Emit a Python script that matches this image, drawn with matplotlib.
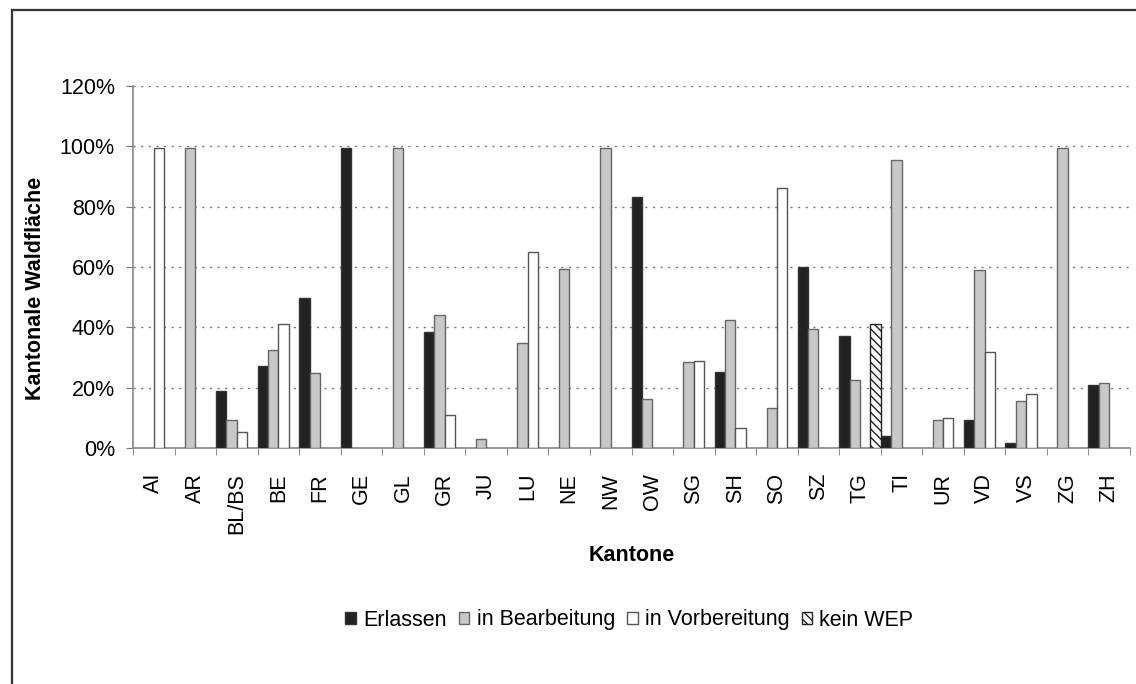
import numpy as np
import matplotlib
matplotlib.use("Agg")
import matplotlib.pyplot as plt
from matplotlib.patches import Patch
from matplotlib.lines import Line2D

kantone = ["AI", "AR", "BL/BS", "BE", "FR", "GE", "GL", "GR", "JU", "LU", "NE", "NW",
           "OW", "SG", "SH", "SO", "SZ", "TG", "TI", "UR", "VD", "VS", "ZG", "ZH"]
erlassen = [0, 0, 19, 27.3, 49.8, 99.3, 0, 38.6, 0, 0, 0, 0,
            83.3, 0, 25.3, 0, 60, 37, 4.1, 0, 9.3, 1.7, 0, 20.8]
in_bearbeitung = [0, 99.3, 9.3, 32.5, 25, 0, 99.3, 44, 2.9, 34.9, 59.4, 99.3,
                  16.1, 28.4, 42.3, 13.4, 39.3, 22.5, 95.5, 9.3, 59.1, 15.7, 99.3, 21.4]
in_vorbereitung = [99.3, 0, 5.2, 41, 0, 0, 0, 11, 0, 64.9, 0, 0,
                   0, 29, 6.5, 86.2, 0, 0, 0, 9.8, 31.8, 17.9, 0, 0]
kein_wep = [0, 0, 0, 0, 0, 0, 0, 0, 0, 0, 0, 0,
            0, 0, 0, 0, 0, 41, 0, 0, 0, 0, 0, 0]
serien = ["Erlassen", "in Bearbeitung", "in Vorbereitung", "kein WEP"]

plt.rcParams["font.family"] = ["Liberation Sans", "DejaVu Sans"]

fig = plt.figure(figsize=(11.36, 6.84), dpi=100)
ax = fig.add_axes([133 / 1136, 1 - 448 / 684, 997 / 1136, 362 / 684])

styles = [
    dict(color="#222222", edgecolor="#333333"),
    dict(color="#c8c8c8", edgecolor="#666666"),
    dict(color="white", edgecolor="#555555"),
    dict(color="white", edgecolor="#222222", hatch="\\\\\\\\"),
]
werte = [erlassen, in_bearbeitung, in_vorbereitung, kein_wep]

x = np.arange(len(kantone))
w = 0.25
for k, (vals, st) in enumerate(zip(werte, styles)):
    v = np.array(vals, dtype=float)
    v[v == 0] = np.nan
    ax.bar(x + (k - 1.5) * w, v, width=w, linewidth=1.0, label=serien[k], zorder=3, **st)

ax.set_xlim(-0.5, len(kantone) - 0.5)
ax.set_ylim(0, 120)
ax.set_yticks(np.arange(0, 121, 20))
ax.set_yticklabels([f"{t}%" for t in range(0, 121, 20)])
ax.yaxis.grid(True, color="#777777", linestyle=(0, (1.5, 4)), linewidth=1.0, zorder=0)

ax.set_xticks(x)
ax.set_xticklabels(kantone, rotation=90, va="top")
ax.set_xticks(np.arange(-0.5, len(kantone), 1.0), minor=True)
ax.tick_params(axis="x", which="major", length=0, pad=18, labelsize=15.5)
ax.tick_params(axis="x", which="minor", length=5, color="#777777", direction="out")
ax.tick_params(axis="y", length=5, color="#777777", pad=8, labelsize=15.5)

for s in ["top", "right"]:
    ax.spines[s].set_visible(False)
for s in ["left", "bottom"]:
    ax.spines[s].set_color("#888888")
    ax.spines[s].set_linewidth(1.2)

ax.set_xlabel("Kantone", fontsize=15.5, fontweight="bold")
ax.xaxis.set_label_coords(0.5, -0.268)
ax.set_ylabel("Kantonale Waldfläche", fontsize=15.5, fontweight="bold")
ax.yaxis.set_label_coords(-0.087, 0.44)

handles = [Patch(facecolor=st["color"], edgecolor=st["edgecolor"], hatch=st.get("hatch"),
                 linewidth=1.0, label=name) for st, name in zip(styles, serien)]
fig.legend(handles=handles, loc="center", bbox_to_anchor=(0.554, 1 - 620 / 684), ncol=4,
           frameon=False, fontsize=15.5, handlelength=0.5, handleheight=0.5,
           handletextpad=0.33, columnspacing=0.56)

# Rahmen (links und oben)
fig.add_artist(Line2D([11.5 / 1136, 11.5 / 1136], [0, 1 - 10 / 684], transform=fig.transFigure,
                      color="#333333", linewidth=1.6))
fig.add_artist(Line2D([11.5 / 1136, 1], [1 - 10 / 684, 1 - 10 / 684], transform=fig.transFigure,
                      color="#333333", linewidth=1.6))

fig.savefig("out.png", dpi=100)
